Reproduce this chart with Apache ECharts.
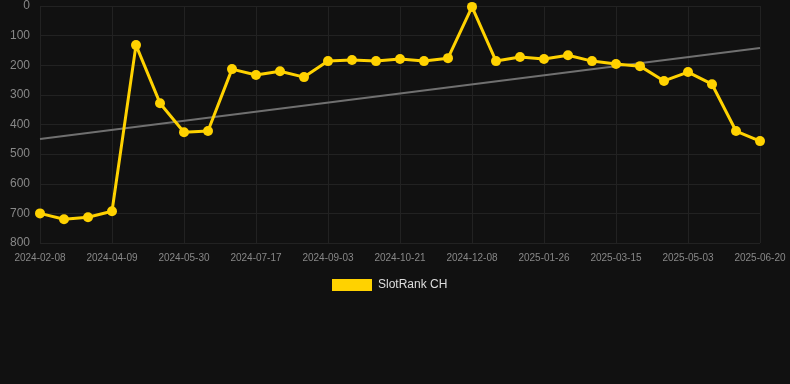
<!DOCTYPE html>
<html><head><meta charset="utf-8">
<script src="https://cdn.jsdelivr.net/npm/echarts@6/dist/echarts.min.js"></script>
<style>html,body{margin:0;padding:0;background:#111111;}#c{width:790px;height:384px;}</style>
</head><body><div id="c"></div>
<script>
const dates = ["2024-02-08","2024-02-28","2024-03-19","2024-04-09","2024-04-26","2024-05-13","2024-05-30","2024-06-15","2024-07-01","2024-07-17","2024-08-02","2024-08-18","2024-09-03","2024-09-19","2024-10-05","2024-10-21","2024-11-06","2024-11-22","2024-12-08","2024-12-24","2025-01-09","2025-01-26","2025-02-11","2025-02-27","2025-03-15","2025-03-31","2025-04-17","2025-05-03","2025-05-19","2025-06-04","2025-06-20"];
const rankCH = [700,720,713,693,132,328,426,422,213,233,220,240,186,182,186,179,186,176,3,186,172,179,166,186,196,203,253,223,264,422,456];
const trendEnds = [449,142];
const yTicks = [0,100,200,300,400,500,600,700,800];

const trend = dates.map((d,i)=> i===0 ? trendEnds[0] : (i===dates.length-1 ? trendEnds[1] : null));
const chart = echarts.init(document.getElementById('c'));
chart.setOption({
  backgroundColor:'#111111',
  animation:false,
  grid:{left:40,right:30,top:6,bottom:141},
  legend:{data:[{name:'SlotRank CH',icon:'rect'}],top:279,left:332,itemWidth:40,itemHeight:12,itemGap:10,padding:0,
    textStyle:{color:'#dddddd',fontSize:12,padding:[0,0,0,1],fontFamily:'Liberation Sans, Arial, sans-serif'}},
  xAxis:{type:'category',data:dates,boundaryGap:false,
    axisLine:{show:false},axisTick:{show:false},
    axisLabel:{interval:2,color:'#888888',fontSize:10,margin:10,fontFamily:'Liberation Sans, Arial, sans-serif'},
    splitLine:{show:true,interval:2,lineStyle:{color:'#222222',width:1}}},
  yAxis:{type:'value',inverse:true,min:yTicks[0],max:yTicks[yTicks.length-1],interval:100,
    axisLine:{show:false},axisTick:{show:false},
    axisLabel:{color:'#888888',fontSize:12,margin:10,fontFamily:'Liberation Sans, Arial, sans-serif'},
    splitLine:{lineStyle:{color:'#222222',width:1}}},
  series:[
    {name:'trend',type:'line',data:trend,connectNulls:true,symbol:'none',
      lineStyle:{color:'#707070',width:2},z:1,silent:true},
    {name:'SlotRank CH',type:'line',data:rankCH,symbol:'circle',symbolSize:10,
      lineStyle:{color:'#FFD200',width:3},itemStyle:{color:'#FFD200'},z:3}
  ]
});
</script></body></html>
